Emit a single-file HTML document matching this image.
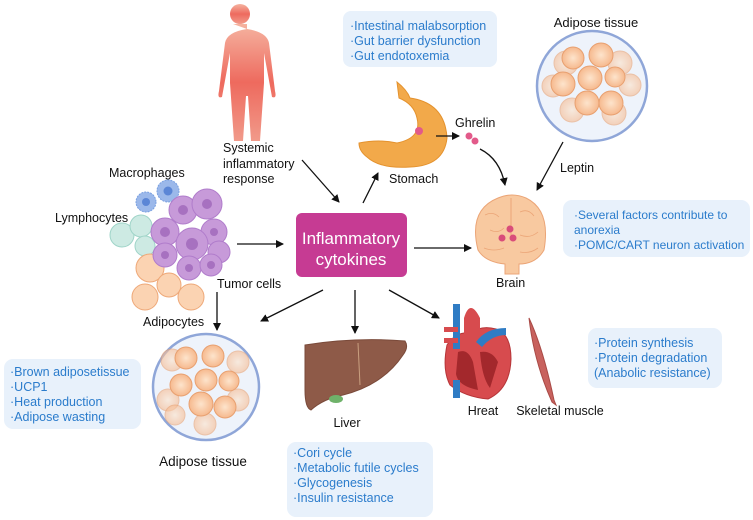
<!DOCTYPE html>
<html><head><meta charset="utf-8"><style>
html,body{margin:0;padding:0;background:#fff;}
svg{display:block;font-family:"Liberation Sans",sans-serif;}
.l{font-size:12.5px;fill:#111;}
.b{font-size:12.5px;fill:#2b7ccc;}
</style></head><body>
<svg width="753" height="520" viewBox="0 0 753 520" xmlns="http://www.w3.org/2000/svg">
<defs>
<marker id="a" markerWidth="8" markerHeight="8" refX="7" refY="4" orient="auto" markerUnits="userSpaceOnUse"><path d="M0,0 L8,4 L0,8 z" fill="#111"/></marker>
<linearGradient id="hg" x1="0" y1="0" x2="0" y2="1"><stop offset="0" stop-color="#f5b3a0"/><stop offset="0.5" stop-color="#ee6a5e"/><stop offset="1" stop-color="#f19a8a"/></linearGradient>
<radialGradient id="fat"><stop offset="0" stop-color="#fde4cc"/><stop offset="1" stop-color="#f6b98e"/></radialGradient>
</defs>

<g fill="url(#hg)">
<circle cx="240" cy="14" r="10"/>
<path d="M233,24 h14 v5 q20,3 22,14 l6,48 q2,8 -3,6 l-8,-44 v30 l-4,58 h-9 l-3,-45 h-2 l-3,45 h-9 l-4,-58 v-30 l-8,44 q-5,2 -3,-6 l6,-48 q2,-11 22,-14z"/>
</g>

<rect x="343" y="11" width="154" height="56" rx="8" fill="#e8f1fb"/>
<text class="b" x="350" y="30">·Intestinal malabsorption</text>
<text class="b" x="350" y="45">·Gut barrier dysfunction</text>
<text class="b" x="350" y="60">·Gut endotoxemia</text>

<text class="l" x="596" y="27" text-anchor="middle" style="font-size:13px">Adipose tissue</text>
<circle cx="592" cy="86" r="55" fill="#eef3fb" stroke="#8fa6d8" stroke-width="2.5"/>
<g fill="url(#fat)" stroke="#e8a070" stroke-width="1">
<circle cx="566" cy="63" r="12" opacity=".6"/><circle cx="620" cy="63" r="12" opacity=".6"/>
<circle cx="572" cy="110" r="12" opacity=".6"/><circle cx="614" cy="113" r="12" opacity=".6"/>
<circle cx="553" cy="86" r="11" opacity=".6"/><circle cx="630" cy="85" r="11" opacity=".6"/>
<circle cx="573" cy="58" r="11"/><circle cx="601" cy="55" r="12"/><circle cx="563" cy="84" r="12"/>
<circle cx="590" cy="78" r="12"/><circle cx="615" cy="77" r="10"/><circle cx="587" cy="103" r="12"/><circle cx="611" cy="103" r="12"/>
</g>

<path d="M397,82 q10,8 13,16 q35,5 37,40 q-3,28 -37,29 q-30,2 -43,-10 q-8,-6 -8,-14 q20,-4 38,0 q25,-5 20,-25 q-3,-14 -18,-20 z" fill="#f2a94a" stroke="#e4922e"/>
<circle cx="419" cy="131" r="4" fill="#e25a8a"/>
<text class="l" x="389" y="183">Stomach</text>
<text class="l" x="455" y="127">Ghrelin</text>
<circle cx="469" cy="136" r="3.5" fill="#e25a8a"/><circle cx="475" cy="141" r="3.5" fill="#e25a8a"/>
<line x1="436" y1="136" x2="459" y2="136" stroke="#111" stroke-width="1.3" marker-end="url(#a)"/>
<path d="M480,149 q20,10 25,36" fill="none" stroke="#111" stroke-width="1.3" marker-end="url(#a)"/>
<line x1="563" y1="142" x2="537" y2="190" stroke="#111" stroke-width="1.3" marker-end="url(#a)"/>
<text class="l" x="560" y="172">Leptin</text>

<text class="l" x="223" y="152">Systemic</text>
<text class="l" x="223" y="168">inflammatory</text>
<text class="l" x="223" y="183">response</text>
<line x1="302" y1="160" x2="339" y2="202" stroke="#111" stroke-width="1.3" marker-end="url(#a)"/>
<line x1="363" y1="203" x2="378" y2="173" stroke="#111" stroke-width="1.3" marker-end="url(#a)"/>

<rect x="296" y="213" width="111" height="64" rx="6" fill="#c63b93"/>
<text x="351" y="244" text-anchor="middle" fill="#fff" style="font-size:17px">Inflammatory</text>
<text x="351" y="265" text-anchor="middle" fill="#fff" style="font-size:17px">cytokines</text>

<path d="M478,250 q-10,-40 20,-52 q14,-6 28,0 q25,12 18,52 q-8,14 -25,14 v10 h-14 v-10 q-20,-2 -27,-14z" fill="#f8c9a0" stroke="#eba577"/>
<line x1="511" y1="198" x2="511" y2="240" stroke="#eba577"/>
<g fill="none" stroke="#eba577" stroke-width="0.8"><path d="M485,215 q8,-4 14,2 M490,230 q8,4 14,-2 M520,212 q8,-4 14,4 M520,235 q10,4 18,-3 M484,248 q10,4 20,0 M520,252 q10,2 18,-4"/></g>
<circle cx="510" cy="229" r="3.5" fill="#d94d7a"/><circle cx="502" cy="238" r="3.5" fill="#d94d7a"/><circle cx="513" cy="238" r="3.5" fill="#d94d7a"/>
<text class="l" x="496" y="287">Brain</text>
<line x1="414" y1="248" x2="471" y2="248" stroke="#111" stroke-width="1.3" marker-end="url(#a)"/>
<rect x="563" y="200" width="187" height="57" rx="9" fill="#e8f1fb"/>
<text class="b" x="574" y="219" style="font-size:12px">·Several factors contribute to</text>
<text class="b" x="574" y="234" style="font-size:12px">anorexia</text>
<text class="b" x="574" y="249" style="font-size:12px">·POMC/CART neuron activation</text>

<text class="l" x="109" y="177">Macrophages</text>
<text class="l" x="55" y="222">Lymphocytes</text>
<text class="l" x="217" y="288">Tumor cells</text>
<text class="l" x="143" y="326">Adipocytes</text>
<circle cx="146" cy="202" r="10" fill="#9bb8ea" stroke="#7aa0e0" stroke-dasharray="2 1"/><circle cx="146" cy="202" r="4" fill="#5b86d6"/>
<circle cx="168" cy="191" r="11" fill="#9bb8ea" stroke="#7aa0e0" stroke-dasharray="2 1"/><circle cx="168" cy="191" r="4.5" fill="#5b86d6"/>
<g fill="#cdeae3" stroke="#9fd4c8"><circle cx="122" cy="235" r="12"/><circle cx="141" cy="226" r="11"/><circle cx="145" cy="246" r="10"/></g>
<g fill="#fbd3b2" stroke="#eea878"><circle cx="150" cy="268" r="14"/><circle cx="145" cy="297" r="13"/><circle cx="169" cy="285" r="12"/><circle cx="191" cy="297" r="13"/></g>
<g fill="#c79ad9" stroke="#b07ccb">
<circle cx="183" cy="210" r="14"/><circle cx="207" cy="204" r="15"/><circle cx="165" cy="232" r="14"/><circle cx="214" cy="232" r="13"/>
<circle cx="192" cy="244" r="16"/><circle cx="165" cy="255" r="12"/><circle cx="219" cy="252" r="11"/><circle cx="189" cy="268" r="12"/><circle cx="211" cy="265" r="11"/>
</g>
<g fill="#a771c0"><circle cx="183" cy="210" r="5"/><circle cx="207" cy="204" r="5"/><circle cx="165" cy="232" r="5"/><circle cx="192" cy="244" r="6"/><circle cx="214" cy="232" r="4"/><circle cx="189" cy="268" r="4"/><circle cx="211" cy="265" r="4"/><circle cx="165" cy="255" r="4"/></g>
<line x1="237" y1="244" x2="283" y2="244" stroke="#111" stroke-width="1.3" marker-end="url(#a)"/>
<line x1="217" y1="292" x2="217" y2="330" stroke="#111" stroke-width="1.3" marker-end="url(#a)"/>

<line x1="323" y1="290" x2="261" y2="321" stroke="#111" stroke-width="1.3" marker-end="url(#a)"/>
<line x1="355" y1="290" x2="355" y2="333" stroke="#111" stroke-width="1.3" marker-end="url(#a)"/>
<line x1="389" y1="290" x2="439" y2="318" stroke="#111" stroke-width="1.3" marker-end="url(#a)"/>

<rect x="4" y="359" width="137" height="70" rx="9" fill="#e8f1fb"/>
<text class="b" x="10" y="376">·Brown adiposetissue</text>
<text class="b" x="10" y="391">·UCP1</text>
<text class="b" x="10" y="406">·Heat production</text>
<text class="b" x="10" y="421">·Adipose wasting</text>

<circle cx="206" cy="387" r="53" fill="#eef3fb" stroke="#8fa6d8" stroke-width="2.5"/>
<g fill="url(#fat)" stroke="#e8a070" stroke-width="1">
<circle cx="172" cy="360" r="11" opacity=".6"/><circle cx="238" cy="362" r="11" opacity=".6"/><circle cx="168" cy="400" r="11" opacity=".6"/>
<circle cx="238" cy="400" r="11" opacity=".6"/><circle cx="205" cy="424" r="11" opacity=".6"/><circle cx="175" cy="415" r="10" opacity=".6"/>
<circle cx="186" cy="358" r="11"/><circle cx="213" cy="356" r="11"/><circle cx="181" cy="385" r="11"/><circle cx="206" cy="380" r="11"/>
<circle cx="229" cy="381" r="10"/><circle cx="201" cy="404" r="12"/><circle cx="225" cy="407" r="11"/>
</g>
<text class="l" x="203" y="466" text-anchor="middle" style="font-size:13.5px">Adipose tissue</text>

<path d="M305,345 q50,-8 100,-4 q4,6 -2,14 q-20,30 -60,40 q-20,4 -32,15 q-6,-2 -6,-20z" fill="#8e5a48" stroke="#7a4a3a"/>
<line x1="358" y1="343" x2="360" y2="385" stroke="#c9a080" stroke-width="1"/>
<ellipse cx="336" cy="399" rx="7" ry="4" fill="#6fb26a"/>
<text class="l" x="347" y="427" text-anchor="middle">Liver</text>
<rect x="287" y="442" width="146" height="75" rx="9" fill="#e8f1fb"/>
<text class="b" x="293" y="457">·Cori cycle</text>
<text class="b" x="293" y="472">·Metabolic futile cycles</text>
<text class="b" x="293" y="487">·Glycogenesis</text>
<text class="b" x="293" y="502">·Insulin resistance</text>

<path d="M447,345 q-5,25 3,40 q15,12 38,14 q22,-10 23,-40 q0,-25 -15,-30 q-15,-4 -25,4 q-15,-2 -24,12z" fill="#d74b4e" stroke="#b63538"/>
<path d="M458,352 q10,-4 15,10 l5,28 q-20,-4 -22,-16z M480,352 q12,-2 18,10 l-8,26 q-8,-10 -10,-36z" fill="#a3282c"/>
<rect x="453" y="304" width="7" height="45" fill="#2f7cc4"/><rect x="453" y="380" width="7" height="18" fill="#2f7cc4"/>
<rect x="444" y="327" width="14" height="5" fill="#d74b4e"/><rect x="444" y="338" width="14" height="5" fill="#d74b4e"/>
<path d="M464,318 q6,-20 16,0 v20 h-16z" fill="#d74b4e"/>
<path d="M476,342 q10,-14 30,-14 v7 q-14,0 -24,12z" fill="#2f7cc4"/>
<text class="l" x="483" y="415" text-anchor="middle">Hreat</text>
<path d="M529,318 q14,30 25,82 l2,5 l-4,-3 q-18,-40 -23,-84z" fill="#c8625e" stroke="#a94a46"/>
<text class="l" x="560" y="415" text-anchor="middle">Skeletal muscle</text>
<rect x="588" y="328" width="134" height="60" rx="9" fill="#e8f1fb"/>
<text class="b" x="594" y="347">·Protein synthesis</text>
<text class="b" x="594" y="362">·Protein degradation</text>
<text class="b" x="594" y="377">(Anabolic resistance)</text>
</svg>
</body></html>
